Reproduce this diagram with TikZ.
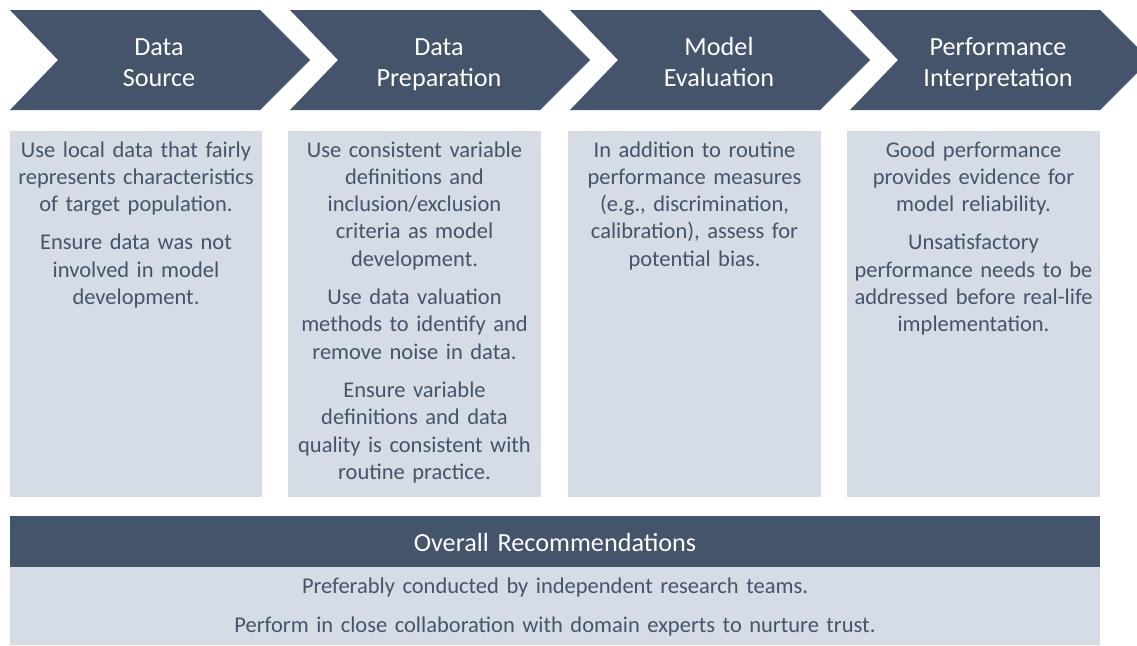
\documentclass[tikz,border=0pt]{standalone}
\usepackage{fontspec}
\setmainfont{Carlito}
\definecolor{dk}{HTML}{44546A}
\definecolor{lt}{HTML}{D6DCE5}
\begin{document}
\begin{tikzpicture}[x=1pt,y=-1pt,
  chev/.style={fill=dk,draw=none},
  panel/.style={fill=lt,draw=none},
  head/.style={text=white,font=\fontsize{26.2}{31}\selectfont,align=center,anchor=base,inner sep=0pt,text width=280pt},
  body/.style={text=dk,font=\fontsize{22.5}{27.3}\selectfont,align=center,anchor=base,inner sep=0pt,text width=250pt},
]
\useasboundingbox (0,0) rectangle (1137,645);
\clip (0,0) rectangle (1137,645);
% chevrons
\foreach \L in {10,290,570,850}{
  \fill[chev] (\L,10) -- ({\L+250},10) -- ({\L+300},60) -- ({\L+250},110) -- (\L,110) -- ({\L+48},60) -- cycle;
}
\node[head] (h1) at (159,55) {Data\\Source};
\node[head] (h2) at (439,55) {Data\\Preparation};
\node[head] (h3) at (719,55) {Model\\Evaluation};
\node[head] (h4) at (998,55) {Performance\\Interpretation};
% panels
\fill[panel] (10,131) rectangle (262,497);
\fill[panel] (288,131) rectangle (541,497);
\fill[panel] (568,131) rectangle (821,497);
\fill[panel] (847,131) rectangle (1100,497);
\node[body] (b1) at (136,157) {Use local data that fairly\\represents characteristics\\of target population.\\[11pt]Ensure data was not\\involved in model\\development.};
\node[body] (b2) at (414.5,157) {Use consistent variable\\definitions and\\inclusion/exclusion\\criteria as model\\development.\\[11pt]Use data valuation\\methods to identify and\\remove noise in data.\\[11pt]Ensure variable\\definitions and data\\quality is consistent with\\routine practice.};
\node[body] (b3) at (694.5,157) {In addition to routine\\performance measures\\(e.g., discrimination,\\calibration), assess for\\potential bias.};
\node[body] (b4) at (973.5,157) {Good performance\\provides evidence for\\model reliability.\\[11pt]Unsatisfactory\\performance needs to be\\addressed before real-life\\implementation.};
% bottom banner
\fill[chev] (10,516) rectangle (1100,567);
\fill[panel] (10,567) rectangle (1100,645);
\node[head,text width=800pt] (ov) at (555,551) {Overall Recommendations};
\node[body,text width=800pt] (r1) at (555,593) {Preferably conducted by independent research teams.};
\node[body,text width=800pt] (r2) at (555,632) {Perform in close collaboration with domain experts to nurture trust.};
\end{tikzpicture}
\end{document}
